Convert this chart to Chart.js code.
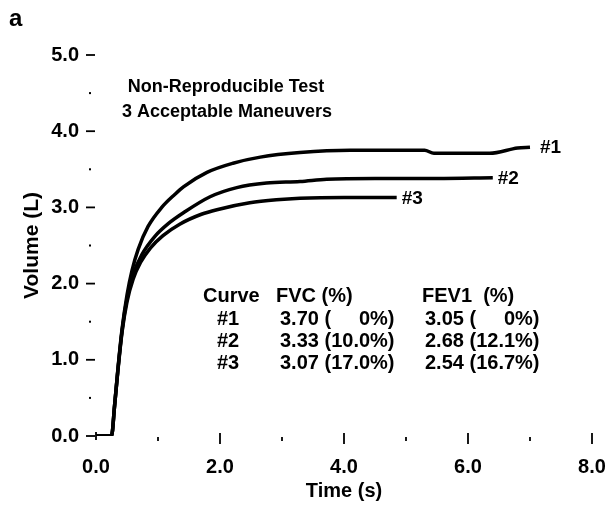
<!DOCTYPE html>
<html>
<head>
<meta charset="utf-8">
<script src="https://cdn.jsdelivr.net/npm/chart.js@4.4.1/dist/chart.umd.min.js"></script>
<style>
  html, body { margin: 0; padding: 0; background: #fff; }
  #wrap { width: 611px; height: 506px; }
</style>
</head>
<body>
<div id="wrap"><canvas id="chart"></canvas></div>
<script>
// Volume-time curves for three maneuvers
const curve1Time   = [0, 0.25, 0.3, 0.35, 0.42, 0.5, 0.58, 0.68, 0.84, 1.06, 1.27, 1.41, 1.79, 2.21, 2.65, 3.29, 4.1, 5.3, 5.45, 6.35, 6.8, 7.0];
const curve1Volume = [0, 0, 0.4, 0.85, 1.4, 1.85, 2.17, 2.45, 2.75, 3.0, 3.17, 3.27, 3.46, 3.58, 3.66, 3.72, 3.75, 3.75, 3.71, 3.71, 3.78, 3.79];

const curve2Time   = [0, 0.25, 0.3, 0.35, 0.42, 0.5, 0.6, 0.74, 0.95, 1.17, 1.41, 1.84, 2.27, 2.75, 3.29, 3.72, 4.5, 5.5, 6.4];
const curve2Volume = [0, 0, 0.4, 0.84, 1.38, 1.8, 2.12, 2.38, 2.62, 2.79, 2.93, 3.14, 3.26, 3.32, 3.34, 3.37, 3.38, 3.38, 3.39];

const curve3Time   = [0, 0.25, 0.3, 0.35, 0.42, 0.5, 0.6, 0.72, 0.88, 1.08, 1.35, 1.7, 1.95, 2.48, 2.91, 3.29, 4.0, 4.85];
const curve3Volume = [0, 0, 0.4, 0.83, 1.36, 1.76, 2.06, 2.28, 2.47, 2.63, 2.78, 2.91, 2.97, 3.06, 3.1, 3.12, 3.13, 3.13];

// Summary table
const curveNames  = ["#1", "#2", "#3"];
const fvcValues   = ["3.70", "3.33", "3.07"];
const fvcPercent  = ["0%", "10.0%", "17.0%"];
const fev1Values  = ["3.05", "2.68", "2.54"];
const fev1Percent = ["0%", "12.1%", "16.7%"];

const titleLines = ["Non-Reproducible Test", "3 Acceptable Maneuvers"];

const FONT = "'Liberation Sans', Arial, sans-serif";

function toPoints(xs, ys) {
  return xs.map((x, i) => ({ x, y: ys[i] }));
}

const curveSets = [
  { label: "#1", data: toPoints(curve1Time, curve1Volume), tagDx: 10 },
  { label: "#2", data: toPoints(curve2Time, curve2Volume), tagDx: 5 },
  { label: "#3", data: toPoints(curve3Time, curve3Volume), tagDx: 5 }
];

// value column: "3.70 (" at the left, "0%)" pushed to the right edge of the widest entry
function drawColumn(ctx, x, y, values, percents) {
  const widest = Math.max(...values.map((v, i) => ctx.measureText(v + " (" + percents[i] + ")").width));
  values.forEach((v, i) => {
    ctx.textAlign = "left";
    ctx.fillText(v + " (", x, y + i * 22);
    ctx.textAlign = "right";
    ctx.fillText(percents[i] + ")", x + widest, y + i * 22);
  });
}

const annotations = {
  id: "annotations",
  afterDraw(chart) {
    const ctx = chart.ctx;
    const xs = chart.scales.x;
    const ys = chart.scales.y;
    const left = chart.chartArea.left;
    const bottom = chart.chartArea.bottom;
    ctx.save();
    ctx.fillStyle = "#000";
    ctx.strokeStyle = "#000";

    // y tick marks: dashes on whole litres, dots on halves
    for (let v = 0; v <= 5; v += 0.5) {
      const py = ys.getPixelForValue(v);
      if (Number.isInteger(v)) {
        ctx.lineWidth = 1.8;
        ctx.beginPath();
        ctx.moveTo(left - 10, py);
        ctx.lineTo(left - 1, py);
        ctx.stroke();
      } else {
        ctx.fillRect(left - 7, py - 1, 2, 2);
      }
    }
    // x tick marks
    for (let t = 0; t <= 8; t += 1) {
      const px = xs.getPixelForValue(t);
      ctx.lineWidth = 1.8;
      ctx.beginPath();
      if (t === 0) {
        ctx.moveTo(px, bottom - 4);
        ctx.lineTo(px, bottom + 4);
      } else if (t % 2 === 0) {
        ctx.moveTo(px, bottom - 3);
        ctx.lineTo(px, bottom + 8);
      } else {
        ctx.moveTo(px, bottom + 1);
        ctx.lineTo(px, bottom + 5);
      }
      ctx.stroke();
    }

    // panel letter
    ctx.font = "bold 24px " + FONT;
    ctx.textAlign = "left";
    ctx.textBaseline = "middle";
    ctx.fillText("a", 9, 19);

    // heading
    ctx.font = "bold 18px " + FONT;
    ctx.textAlign = "center";
    ctx.fillText(titleLines[0], 226, 87);
    ctx.fillText(titleLines[1], 227, 112);

    // curve tags at the end of each trace
    ctx.font = "bold 19px " + FONT;
    ctx.textAlign = "left";
    curveSets.forEach(c => {
      const last = c.data[c.data.length - 1];
      ctx.fillText(c.label, xs.getPixelForValue(last.x) + c.tagDx, ys.getPixelForValue(last.y) + 1);
    });

    // table
    ctx.font = "bold 20px " + FONT;
    ctx.fillText("Curve", 203, 296);
    ctx.fillText("FVC (%)", 276, 296);
    ctx.fillText("FEV1  (%)", 422, 296);
    curveNames.forEach((name, i) => ctx.fillText(name, 217, 319 + i * 22));
    drawColumn(ctx, 280, 319, fvcValues, fvcPercent);
    drawColumn(ctx, 425, 319, fev1Values, fev1Percent);
    ctx.restore();
  }
};

new Chart(document.getElementById("chart"), {
  type: "line",
  data: {
    datasets: curveSets.map(c => ({
      label: c.label,
      data: c.data,
      borderColor: "#000",
      borderWidth: 3.5,
      pointRadius: 0,
      fill: false,
      cubicInterpolationMode: "monotone"
    }))
  },
  options: {
    responsive: true,
    maintainAspectRatio: false,
    animation: false,
    layout: { padding: { top: 55, right: 19, left: 0, bottom: 0 } },
    plugins: { legend: { display: false }, tooltip: { enabled: false } },
    scales: {
      x: {
        type: "linear",
        min: 0,
        max: 8,
        grid: { display: false, drawTicks: false },
        border: { display: false },
        afterFit: s => {
          s.height = 70;
          s.paddingLeft = 0;
          s.paddingRight = 0;
        },
        ticks: {
          stepSize: 1,
          autoSkip: false,
          maxRotation: 0,
          padding: 19,
          color: "#000",
          font: { family: FONT, size: 20, weight: "bold" },
          callback: v => (v % 2 === 0 ? v.toFixed(1) : "")
        },
        title: {
          display: true,
          text: "Time (s)",
          color: "#000",
          font: { family: FONT, size: 20, weight: "bold" },
          padding: { top: 0, bottom: 3 }
        }
      },
      y: {
        min: 0,
        max: 5,
        grid: { display: false, drawTicks: false },
        border: { display: false },
        afterFit: s => { s.width = 96; },
        ticks: {
          stepSize: 0.5,
          padding: 17,
          color: "#000",
          font: { family: FONT, size: 20, weight: "bold" },
          callback: v => (Number.isInteger(v) ? v.toFixed(1) : "")
        },
        title: {
          display: true,
          text: "Volume (L)",
          color: "#000",
          font: { family: FONT, size: 21, weight: "bold" },
          padding: { top: 20, bottom: 0 }
        }
      }
    }
  },
  plugins: [annotations]
});
</script>
</body>
</html>
